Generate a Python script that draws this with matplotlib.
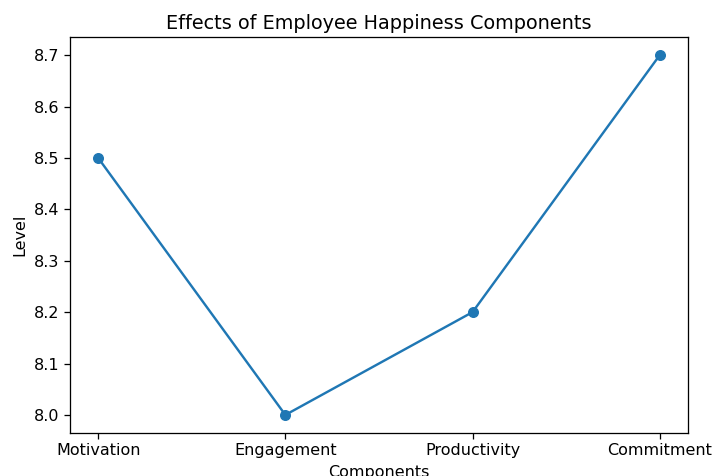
import matplotlib
matplotlib.use("Agg")
import matplotlib.pyplot as plt

components = ["Motivation", "Engagement", "Productivity", "Commitment"]
levels = [8.5, 8.0, 8.2, 8.7]

s = 1.155
plt.rcParams.update({
    "font.size": 10 * s,
    "axes.titlesize": 12 * s,
    "axes.labelsize": 10 * s,
    "xtick.labelsize": 10 * s,
    "ytick.labelsize": 10 * s,
    "axes.linewidth": 0.8 * s,
    "xtick.major.width": 0.8 * s,
    "ytick.major.width": 0.8 * s,
    "xtick.major.size": 3.5 * s,
    "ytick.major.size": 3.5 * s,
})

fig, ax = plt.subplots(figsize=(7.15, 4.76), dpi=100)
ax.plot(components, levels, marker="o", color="#1f77b4", linewidth=1.5 * s, markersize=6 * s)
ax.set_title("Effects of Employee Happiness Components")
ax.set_xlabel("Components", labelpad=4 * s)
ax.set_ylabel("Level", labelpad=4 * s)
fig.subplots_adjust(left=0.098, right=0.962, top=0.922, bottom=0.0905)
fig.savefig("out.png", dpi=100)
